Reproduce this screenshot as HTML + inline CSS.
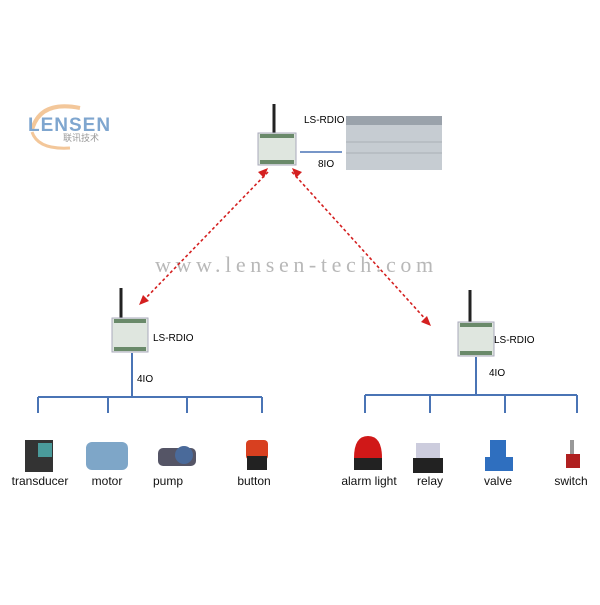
<!DOCTYPE html>
<html><head><style>
body{margin:0;background:#fff;width:600px;height:600px;overflow:hidden;font-family:"Liberation Sans",sans-serif}
</style></head><body>
<svg width="600" height="600" xmlns="http://www.w3.org/2000/svg" font-family="Liberation Sans, sans-serif">
<rect width="600" height="600" fill="#fff"/>
<!-- logo -->
<path d="M32 130 Q40 100 80 108" stroke="#f3c79a" stroke-width="4" fill="none"/>
<path d="M32 132 Q38 150 70 148" stroke="#f3c79a" stroke-width="3" fill="none"/>
<text x="28" y="131" font-size="19" font-weight="bold" fill="#7fa6cf" letter-spacing="1">LENSEN</text>
<text x="63" y="141" font-size="9" fill="#999" font-family="Noto Sans CJK SC, sans-serif">联讯技术</text>
<!-- watermark -->
<text x="155" y="272" font-size="22" fill="#b8b8b8" font-family="Liberation Serif, serif" letter-spacing="4.6">www.lensen-tech.com</text>
<!-- top module -->
<line x1="274" y1="104" x2="274" y2="136" stroke="#222" stroke-width="3"/>
<rect x="258" y="133" width="38" height="32" fill="#dfe6df" stroke="#aab" />
<rect x="260" y="134" width="34" height="4" fill="#6a8a6a"/>
<rect x="260" y="160" width="34" height="4" fill="#6a8a6a"/>
<line x1="300" y1="152" x2="342" y2="152" stroke="#4a74b5" stroke-width="1.5"/>
<text x="304" y="123" font-size="10">LS-RDIO</text>
<text x="318" y="167" font-size="10">8IO</text>
<rect x="346" y="116" width="96" height="54" fill="#c6ccd2"/>
<rect x="346" y="116" width="96" height="9" fill="#9aa2ab"/>
<line x1="346" y1="142" x2="442" y2="142" stroke="#a9b0b7"/>
<line x1="346" y1="153" x2="442" y2="153" stroke="#a9b0b7"/>
<!-- arrows -->
<g stroke="#d42020" stroke-width="1.6" stroke-dasharray="3,2.5" fill="none">
<line x1="268" y1="172" x2="142" y2="302"/>
<line x1="292" y1="172" x2="428" y2="322"/>
</g>
<g fill="#d42020">
<polygon points="268,168 258,172 264,178"/>
<polygon points="139,305 143,295 149,301"/>
<polygon points="292,168 302,172 296,178"/>
<polygon points="431,326 421,322 427,316"/>
</g>
<!-- left module -->
<line x1="121" y1="288" x2="121" y2="320" stroke="#222" stroke-width="3"/>
<rect x="112" y="318" width="36" height="34" fill="#dfe6df" stroke="#aab"/>
<rect x="114" y="319" width="32" height="4" fill="#6a8a6a"/>
<rect x="114" y="347" width="32" height="4" fill="#6a8a6a"/>
<text x="153" y="341" font-size="10">LS-RDIO</text>
<text x="137" y="382" font-size="10">4IO</text>
<g stroke="#4a74b5" stroke-width="2" fill="none">
<line x1="132" y1="353" x2="132" y2="397"/>
<line x1="38" y1="397" x2="262" y2="397"/>
<line x1="38" y1="397" x2="38" y2="413"/>
<line x1="108" y1="397" x2="108" y2="413"/>
<line x1="187" y1="397" x2="187" y2="413"/>
<line x1="262" y1="397" x2="262" y2="413"/>
</g>
<!-- right module -->
<line x1="470" y1="290" x2="470" y2="324" stroke="#222" stroke-width="3"/>
<rect x="458" y="322" width="36" height="34" fill="#dfe6df" stroke="#aab"/>
<rect x="460" y="323" width="32" height="4" fill="#6a8a6a"/>
<rect x="460" y="351" width="32" height="4" fill="#6a8a6a"/>
<text x="494" y="343" font-size="10">LS-RDIO</text>
<text x="489" y="376" font-size="10">4IO</text>
<g stroke="#4a74b5" stroke-width="2" fill="none">
<line x1="476" y1="357" x2="476" y2="395"/>
<line x1="365" y1="395" x2="577" y2="395"/>
<line x1="365" y1="395" x2="365" y2="413"/>
<line x1="430" y1="395" x2="430" y2="413"/>
<line x1="505" y1="395" x2="505" y2="413"/>
<line x1="577" y1="395" x2="577" y2="413"/>
</g>
<!-- icons -->
<rect x="25" y="440" width="28" height="32" fill="#333"/><rect x="38" y="443" width="14" height="14" fill="#4a9a9a"/>
<rect x="86" y="442" width="42" height="28" rx="6" fill="#7ea6c8"/>
<rect x="158" y="448" width="38" height="18" rx="5" fill="#556"/><circle cx="184" cy="455" r="9" fill="#4a6a9a"/>
<rect x="246" y="440" width="22" height="20" rx="4" fill="#d84020"/><rect x="247" y="456" width="20" height="14" fill="#222"/>
<path d="M354 458 Q354 436 368 436 Q382 436 382 458Z" fill="#d01818"/><rect x="354" y="458" width="28" height="12" fill="#222"/>
<rect x="416" y="443" width="24" height="18" fill="#ccd"/><rect x="413" y="458" width="30" height="15" fill="#222"/>
<rect x="490" y="440" width="16" height="18" fill="#2f6fbf"/><rect x="485" y="457" width="28" height="14" fill="#2f6fbf"/>
<rect x="570" y="440" width="4" height="14" fill="#999"/><rect x="566" y="454" width="14" height="14" fill="#b02020"/>
<!-- labels -->
<g font-size="12" fill="#111" text-anchor="middle">
<text x="40" y="485">transducer</text>
<text x="107" y="485">motor</text>
<text x="168" y="485">pump</text>
<text x="254" y="485">button</text>
<text x="369" y="485">alarm light</text>
<text x="430" y="485">relay</text>
<text x="498" y="485">valve</text>
<text x="571" y="485">switch</text>
</g>
</svg>
</body></html>
